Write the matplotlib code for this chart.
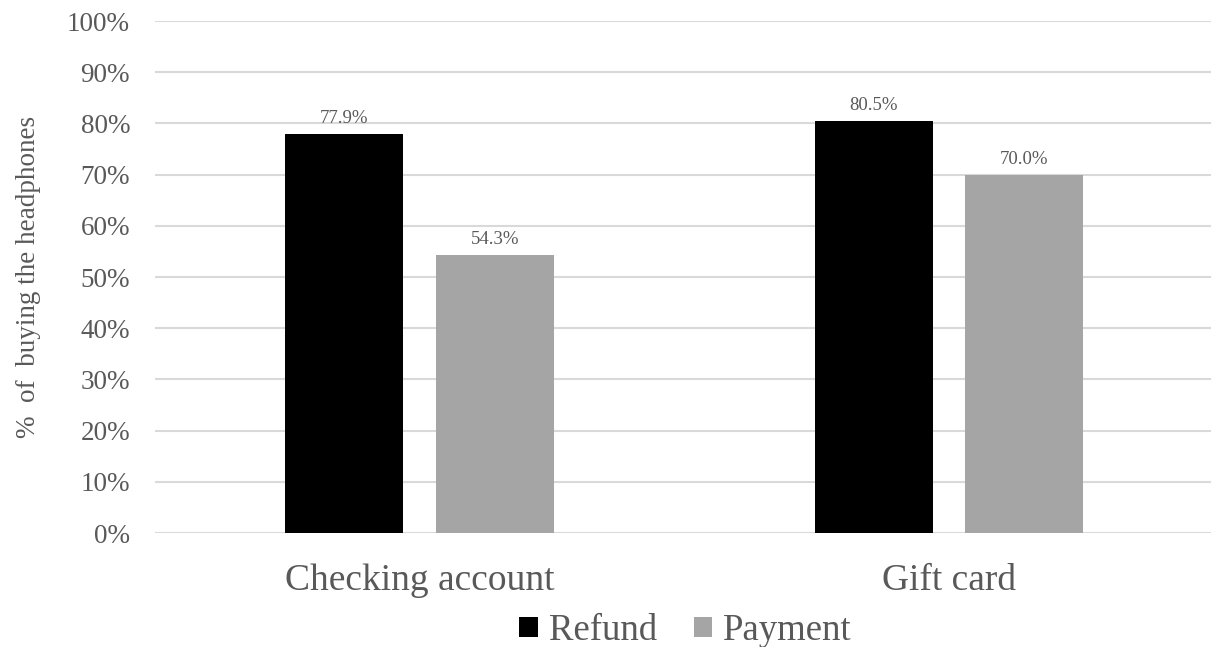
import numpy as np
import matplotlib
matplotlib.use('Agg')
import matplotlib.pyplot as plt
from matplotlib.ticker import PercentFormatter

categories = ['Checking account', 'Gift card']
refund = [77.9, 80.5]
payment = [54.3, 70.0]
series_names = ['Refund', 'Payment']

plt.rcParams['font.family'] = ['Liberation Serif', 'DejaVu Serif']
text_col = '#595959'

fig = plt.figure(figsize=(12.11, 6.47), dpi=100)
ax = fig.add_axes([0.128, 0.176, 0.872, 0.7915])

x = np.arange(len(categories))
w = 0.223
off = 0.1425
b1 = ax.bar(x - off, refund, w, color='black', label=series_names[0], zorder=3)
b2 = ax.bar(x + off, payment, w, color='#a5a5a5', label=series_names[1], zorder=3)

for bars in (b1, b2):
    for r in bars:
        ax.annotate(f'{r.get_height():.1f}%', (r.get_x() + r.get_width() / 2, r.get_height()),
                    xytext=(0, 5), textcoords='offset points', ha='center', va='bottom',
                    fontsize=13.5, color=text_col)

ax.set_xlim(-0.5, 1.495)
ax.set_ylim(0, 100)
ax.set_yticks(np.arange(0, 101, 10))
ax.yaxis.set_major_formatter(PercentFormatter(decimals=0))
ax.set_xticks(x)
ax.set_xticklabels(categories)
ax.tick_params(axis='y', length=0, pad=18, labelsize=19.5, labelcolor=text_col)
ax.tick_params(axis='x', length=0, pad=22, labelsize=27, labelcolor=text_col)
ax.grid(axis='y', color='#d9d9d9', linewidth=1.5, zorder=0)
for s in ax.spines.values():
    s.set_visible(False)

ax.set_ylabel('%  of  buying the headphones', fontsize=19.5, color=text_col)
ax.yaxis.set_label_coords(-0.1075, 0.5)

leg = fig.legend(loc='center', bbox_to_anchor=(0.566, 0.025), ncol=2, frameon=False,
                 fontsize=26.5, handlelength=0.5, handleheight=0.5, handletextpad=0.3,
                 columnspacing=1.0, labelcolor=text_col)

fig.savefig('out.png', dpi=100)
